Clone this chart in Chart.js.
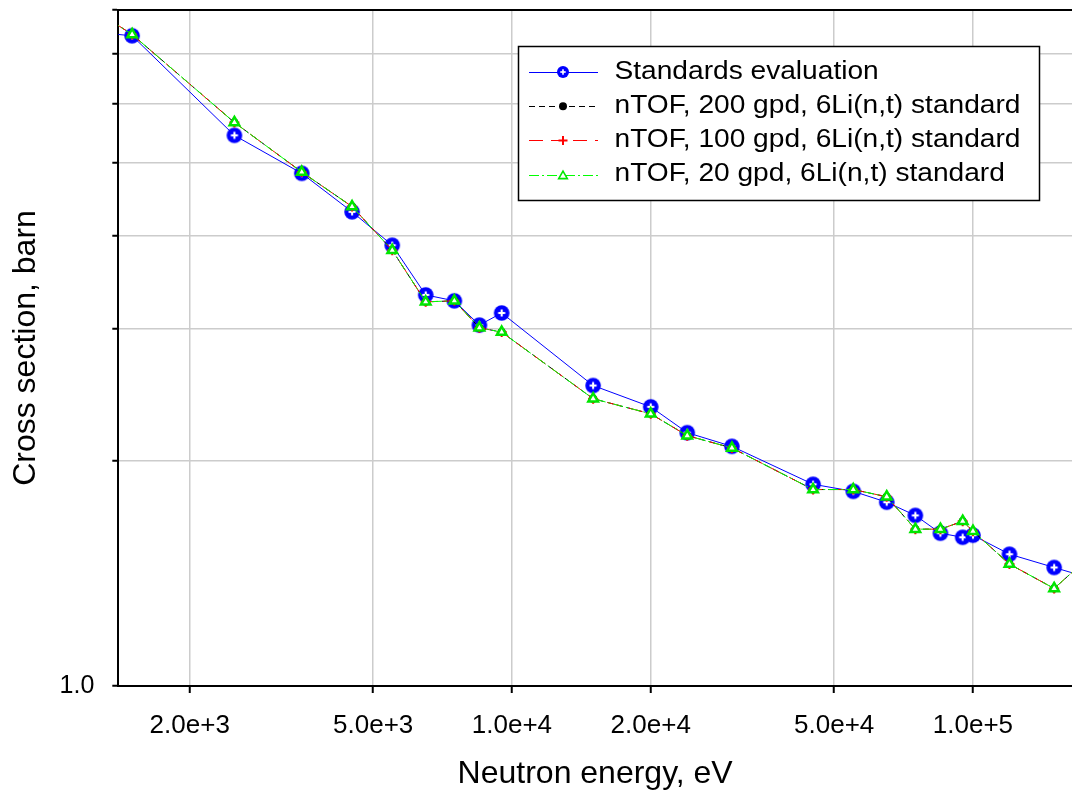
<!DOCTYPE html>
<html>
<head>
<meta charset="utf-8">
<script src="https://cdn.jsdelivr.net/npm/chart.js@4/dist/chart.umd.min.js"></script>
<style>
html,body{margin:0;padding:0;background:#fff;}
#wrap{width:1072px;height:790px;position:relative;overflow:hidden;}
canvas{display:block;}
</style>
</head>
<body>
<div id="wrap"><canvas id="c" width="1072" height="790"></canvas></div>
<script>
// ---- data (neutron energy in eV, cross section in barn) ----
const energies = [1250, 1500, 2500, 3500, 4500, 5500, 6500, 7500, 8500, 9500,
  15000, 20000, 24000, 30000, 45000, 55000, 65000, 75000, 85000, 95000,
  100000, 120000, 150000, 175000];
const standardsEvaluation = [7.47, 7.39, 5.44, 4.84, 4.30, 3.88, 3.33, 3.27, 3.035, 3.15,
  2.52, 2.36, 2.18, 2.09, 1.86, 1.82, 1.76, 1.69, 1.60, 1.58,
  1.59, 1.50, 1.44, 1.40];
const nTOF200gpd = [7.98, 7.42, 5.66, 4.86, 4.37, 3.82, 3.26, 3.27, 3.01, 2.97,
  2.42, 2.31, 2.16, 2.08, 1.83, 1.83, 1.79, 1.62, 1.62, 1.66,
  1.61, 1.455, 1.35, 1.47];
const nTOF100gpd = [7.98, 7.42, 5.66, 4.86, 4.37, 3.82, 3.26, 3.27, 3.01, 2.97,
  2.42, 2.31, 2.16, 2.08, 1.83, 1.83, 1.79, 1.62, 1.62, 1.66,
  1.61, 1.455, 1.35, 1.47];
const nTOF20gpd = [7.98, 7.42, 5.66, 4.86, 4.37, 3.82, 3.26, 3.27, 3.01, 2.97,
  2.42, 2.31, 2.16, 2.08, 1.83, 1.83, 1.79, 1.62, 1.62, 1.66,
  1.61, 1.455, 1.35, 1.47];
const seriesNames = ['Standards evaluation', 'nTOF, 200 gpd, 6Li(n,t) standard',
  'nTOF, 100 gpd, 6Li(n,t) standard', 'nTOF, 20 gpd, 6Li(n,t) standard'];
const xTickValues = [2000, 5000, 10000, 20000, 50000, 100000];
const xTickLabels = ['2.0e+3', '5.0e+3', '1.0e+4', '2.0e+4', '5.0e+4', '1.0e+5'];
const yTickValues = [1, 2, 3, 4, 5, 6, 7, 8];
const yTickLabels = ['1.0', '', '', '', '', '', '', ''];
const xTitle = 'Neutron energy, eV';
const yTitle = 'Cross section, barn';

const FONT = '"Liberation Sans", Arial, Helvetica, sans-serif';

function pts(vals) { return energies.map((e, i) => ({x: e, y: vals[i]})); }

function makeBlueMarker(r) {
  const s = Math.ceil(r * 2 + 2);
  const cv = document.createElement('canvas');
  cv.width = s; cv.height = s;
  const c = cv.getContext('2d');
  const m = s / 2;
  c.fillStyle = '#0000ff';
  c.beginPath(); c.arc(m, m, r, 0, Math.PI * 2); c.fill();
  c.fillStyle = '#ffffff';
  const a = r * 0.45, w = Math.max(1.6, r * 0.27);
  c.fillRect(m - a, m - w / 2, 2 * a, w);
  c.fillRect(m - w / 2, m - a, w, 2 * a);
  return cv;
}
const blueMarker = makeBlueMarker(7.8);
const blueMarkerLegend = makeBlueMarker(6);

const datasets = [
  {label: seriesNames[0], data: pts(standardsEvaluation), borderColor: '#0000ff', borderWidth: 1,
   pointStyle: blueMarker, pointRadius: 7, order: 4, legendMarker: blueMarkerLegend},
  {label: seriesNames[1], data: pts(nTOF200gpd), borderColor: '#000000', borderWidth: 1, borderDash: [6, 4],
   pointStyle: 'circle', pointRadius: 4, pointBackgroundColor: '#000000', pointBorderColor: '#000000', pointBorderWidth: 0,
   order: 3, legendRadius: 4, legendBorder: 0},
  {label: seriesNames[2], data: pts(nTOF100gpd), borderColor: '#ff0000', borderWidth: 1, borderDash: [14, 8],
   pointStyle: 'cross', pointRadius: 5, pointBorderColor: '#ff0000', pointBorderWidth: 2,
   order: 2, legendRadius: 4.5, legendBorder: 2},
  {label: seriesNames[3], data: pts(nTOF20gpd), borderColor: '#00ff00', borderWidth: 1, borderDash: [10, 3, 2, 3],
   pointStyle: 'triangle', pointRadius: 5.5, pointBackgroundColor: '#ffffff', pointBorderColor: '#00e600', pointBorderWidth: 2.5,
   order: 1, legendRadius: 5, legendBorder: 1.6}
];

const legendPlugin = {
  id: 'boxLegend',
  afterDraw(chart) {
    const ctx = chart.ctx;
    const bx = 518, by = 46, bw = 522, bh = 155;
    ctx.save();
    ctx.fillStyle = '#ffffff';
    ctx.fillRect(bx, by, bw, bh);
    ctx.strokeStyle = '#000000';
    ctx.lineWidth = 1.5;
    ctx.strokeRect(bx + 0.5, by + 0.5, bw - 1, bh - 1);
    chart.data.datasets.forEach((ds, i) => {
      const y = 72 + i * 34.2;
      ctx.save();
      ctx.strokeStyle = ds.borderColor;
      ctx.lineWidth = 1;
      ctx.setLineDash(ds.borderDash || []);
      ctx.beginPath(); ctx.moveTo(529, Math.round(y) + 0.5); ctx.lineTo(598, Math.round(y) + 0.5); ctx.stroke();
      ctx.setLineDash([]);
      const mx = 563;
      if (ds.legendMarker) {
        ctx.drawImage(ds.legendMarker, mx - ds.legendMarker.width / 2, y - ds.legendMarker.height / 2);
      } else {
        ctx.fillStyle = ds.pointBackgroundColor || '#ffffff';
        ctx.strokeStyle = ds.pointBorderColor || ds.borderColor;
        ctx.lineWidth = ds.legendBorder;
        Chart.helpers.drawPoint(ctx, {
          pointStyle: ds.pointStyle, radius: ds.legendRadius, rotation: 0,
          borderWidth: ds.legendBorder
        }, mx, y + (ds.pointStyle === 'triangle' ? 1.5 : 0));
      }
      ctx.restore();
      ctx.save();
      ctx.fillStyle = '#000000';
      ctx.font = '25px ' + FONT;
      ctx.textBaseline = 'middle';
      ctx.textAlign = 'left';
      ctx.translate(614.5, y);
      ctx.scale(1.125, 1);
      ctx.fillText(ds.label, 0, 0);
      ctx.restore();
    });
    ctx.restore();
  }
};

new Chart(document.getElementById('c'), {
  type: 'line',
  data: {datasets},
  options: {
    responsive: false,
    animation: false,
    devicePixelRatio: 1,
    events: [],
    layout: {autoPadding: false, padding: {left: 0, right: 0, top: 10, bottom: 0}},
    elements: {line: {tension: 0}},
    plugins: {legend: {display: false}, tooltip: {enabled: false}, title: {display: false}},
    scales: {
      x: {
        type: 'logarithmic', position: 'bottom', min: 1400, max: 164000,
        afterBuildTicks: (s) => { s.ticks = xTickValues.map(v => ({value: v})); },
        afterFit: (s) => { s.paddingLeft = 0; s.paddingRight = 0; s.height = 104; },
        ticks: {
          autoSkip: false, maxRotation: 0, minRotation: 0, padding: 17, color: '#000',
          font: {family: FONT, size: 26},
          callback: (v) => { const i = xTickValues.indexOf(v); return i >= 0 ? xTickLabels[i] : ''; }
        },
        grid: {color: '#cccccc', lineWidth: 1.5, tickLength: 7, tickColor: '#000', tickWidth: 2, drawTicks: true},
        border: {display: true, color: '#000', width: 2},
        title: {display: true, text: xTitle, color: '#000', font: {family: FONT, size: 32, lineHeight: 1},
                padding: {top: 18, bottom: 0}}
      },
      xTop: {
        type: 'logarithmic', position: 'top', min: 1400, max: 164000,
        afterFit: (s) => { s.paddingLeft = 0; s.paddingRight = 0; s.height = 0; },
        ticks: {display: false},
        grid: {display: false, drawTicks: false},
        border: {display: true, color: '#000', width: 2}
      },
      y: {
        type: 'logarithmic', position: 'left', min: 1, max: 8,
        afterBuildTicks: (s) => { s.ticks = yTickValues.map(v => ({value: v})); },
        afterFit: (s) => { s.paddingTop = 0; s.paddingBottom = 0; s.width = 118.3; },
        ticks: {
          autoSkip: false, padding: 18, color: '#000',
          font: {family: FONT, size: 25},
          callback: (v) => { const i = yTickValues.indexOf(v); return i >= 0 ? yTickLabels[i] : ''; }
        },
        grid: {color: '#cccccc', lineWidth: 1.5, tickLength: 6, tickColor: '#000', tickWidth: 2, drawTicks: true},
        border: {display: true, color: '#000', width: 2},
        title: {display: true, text: yTitle, color: '#000', font: {family: FONT, size: 32, lineHeight: 1},
                padding: {top: 10, bottom: 17.5}}
      }
    }
  },
  plugins: [legendPlugin]
});
</script>
</body>
</html>
